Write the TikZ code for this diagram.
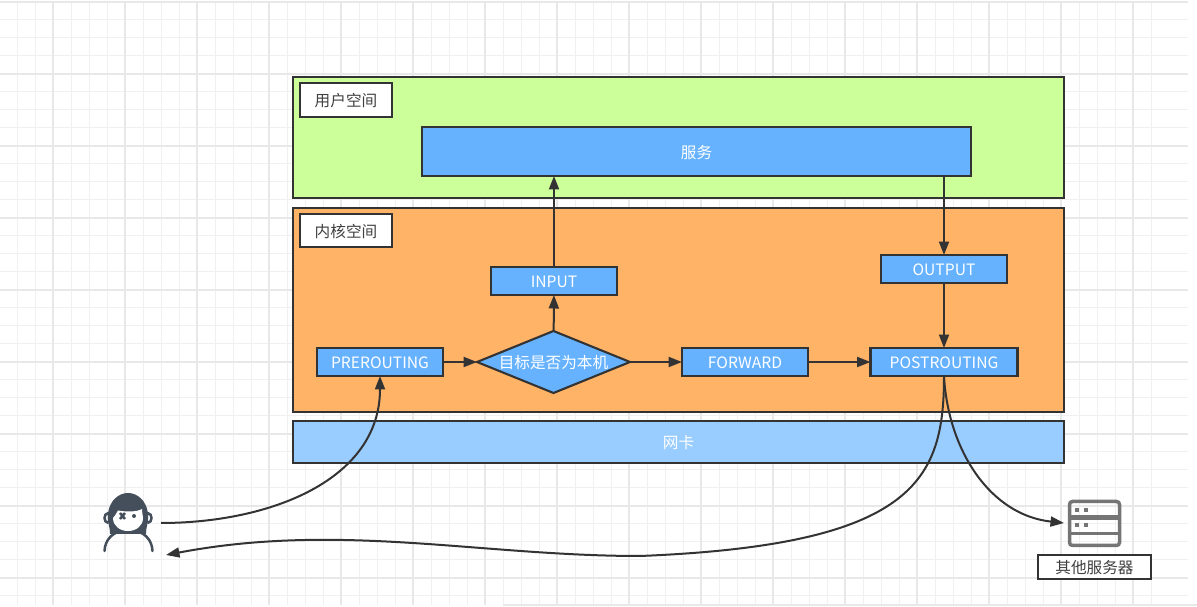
\documentclass[tikz,border=0pt]{standalone}
\usepackage{fontspec}
\setmainfont{Noto Sans CJK SC}
\usetikzlibrary{arrows.meta,shapes.geometric}
\definecolor{userbg}{HTML}{CCFF99}
\definecolor{kernelbg}{HTML}{FFB366}
\definecolor{nicbg}{HTML}{99CCFF}
\definecolor{chainbg}{HTML}{66B2FF}
\definecolor{inkdark}{HTML}{333333}
\definecolor{persondark}{HTML}{454F5B}
\definecolor{servergray}{HTML}{757575}
\tikzset{
  diagarr/.style={-{Triangle[length=0.27cm, width=0.2cm]}, line width=0.04cm, draw=inkdark},
  diagnode/.style={draw=inkdark, line width=0.042cm, align=center, inner sep=0pt, outer sep=0pt, text height=8pt, text depth=0.5pt},
  gridminor/.style={draw=black!6, line width=0.02cm},
  gridmajor/.style={draw=black!9, line width=0.024cm},
}

\begin{document}
\begin{tikzpicture}[
  x=0.02cm, y=-0.02cm,
  font=\fontsize{8.9pt}{10pt}\selectfont,
  region/.style={diagnode, minimum width=15.42cm},
  tag/.style={diagnode, fill=white, text=black!75, minimum width=1.84cm, minimum height=0.67cm},
  chain/.style={diagnode, fill=chainbg, text=white, minimum width=2.52cm, minimum height=0.56cm},
  servericon/.style={draw=servergray, line width=0.07cm},
  personicon/.style={draw=persondark, line width=0.05cm},
]
  \useasboundingbox (0,0) rectangle (1197,607);
  \fill[white] (0,0) rectangle (1197,607);
  % grid
  \foreach \gx in {0,...,63}
    \draw[gridminor] ({17+18*\gx},2) -- ({17+18*\gx},605);
  \foreach \gy in {0,...,33}
    \draw[gridminor] (0,{2+18*\gy}) -- (1188,{2+18*\gy});
  \foreach \gx in {0,...,15}
    \draw[gridmajor] ({53+72*\gx},2) -- ({53+72*\gx},605);
  \foreach \gy in {0,...,8}
    \draw[gridmajor] (0,{2+72*\gy}) -- (1188,{2+72*\gy});
  \draw[gridmajor] (503,605) -- (1197,605);

  % regions
  \node[region, fill=userbg, minimum height=2.42cm] (userspace) at (678.5,137.5) {};
  \node[region, fill=kernelbg, minimum height=4.08cm] (kernelspace) at (678.5,310) {};
  \node[region, fill=nicbg, text=white, minimum height=0.84cm] (nic) at (678.5,442) {网卡};
  \node[tag] (usertag) at (346,100) {用户空间};
  \node[tag] (kerneltag) at (346,230.5) {内核空间};

  % chains
  \node[chain, fill=chainbg, minimum width=10.98cm, minimum height=0.98cm] (service) at (696.5,151.5) {服务};
  \node[chain] (input) at (554,281) {INPUT};
  \node[chain] (output) at (944,269) {OUTPUT};
  \node[chain] (prerouting) at (380,362) {PREROUTING};
  \node[diagnode, diamond, shape aspect=2.47, fill=chainbg, text=white, minimum width=3.06cm, minimum height=1.24cm] (target) at (553.5,362) {目标是否为本机};
  \node[chain] (forward) at (745,362) {FORWARD};
  \node[chain, minimum width=2.94cm] (postrouting) at (944,362) {POSTROUTING};
  \node[tag, minimum width=2.26cm, minimum height=0.48cm] (otherlabel) at (1094.5,567) {其他服务器};

  \foreach \a/\b in {prerouting/target,target/forward,forward/postrouting,target/input,output/postrouting}
    \draw[diagarr] (\a) -- (\b);
  \draw[diagarr] (input) -- (input |- service.south);
  \draw[diagarr] (output |- service.south) -- (output);

  % person
  \coordinate (personout) at (161,523);
  \coordinate (personin) at (166,555);
  \draw[personicon] (107.5,518) ellipse (3 and 4.5);
  \draw[personicon] (148.5,518) ellipse (3 and 4.5);
  \fill[persondark] (110,534) .. controls (110,526) and (107,522) .. (108,513)
    .. controls (110,500) and (119,493) .. (128,493)
    .. controls (137,493) and (146,500) .. (148,513)
    .. controls (149,522) and (146,526) .. (146,534) -- cycle;
  \fill[white] (113,518) .. controls (115,516) and (117,512) .. (118,510.5)
    .. controls (126,512) and (137,512) .. (142,509)
    .. controls (142,513) and (143,516) .. (143,518)
    .. controls (143,526) and (136,531) .. (128,531)
    .. controls (120,531) and (113,526) .. (113,518) -- cycle;
  \draw[personicon, line cap=round] (104.5,551) .. controls (105,540) and (112,534) .. (118,532);
  \draw[personicon, line cap=round] (152.5,551) .. controls (152,540) and (145,534) .. (139,532);
  \draw[persondark, line width=0.05cm] (120,513) -- (125,519) (125,513) -- (120,519);
  \fill[persondark] (134,516) circle (2);

  % server
  \draw[servericon, rounded corners=0.06cm] (1069.5,501.5) rectangle (1119.5,545.5);
  \draw[servericon, line width=0.09cm] (1069.5,517.5) -- (1119.5,517.5);
  \draw[servericon, line width=0.07cm] (1069.5,533.5) -- (1119.5,533.5);
  \foreach \sx in {1075,1084} \foreach \sy in {510,525}
    \fill[servergray] (\sx,\sy-2) rectangle (\sx+4,\sy+2);
  \coordinate (serverin) at (1064,523);

  % flows
  \draw[diagarr] (personout) .. controls (270,523) and (380,480) .. (prerouting.south);
  \draw[diagarr] (postrouting.south) .. controls (948,450) and (990,515) .. (serverin);
  \coordinate (longmid) at (640,556);
  \draw[line width=0.04cm, draw=inkdark] (postrouting.south) .. controls (944,480) and (915,545) .. (longmid);
  \draw[diagarr] (longmid) .. controls (480,556) and (340,522) .. (personin);
\end{tikzpicture}
\end{document}
